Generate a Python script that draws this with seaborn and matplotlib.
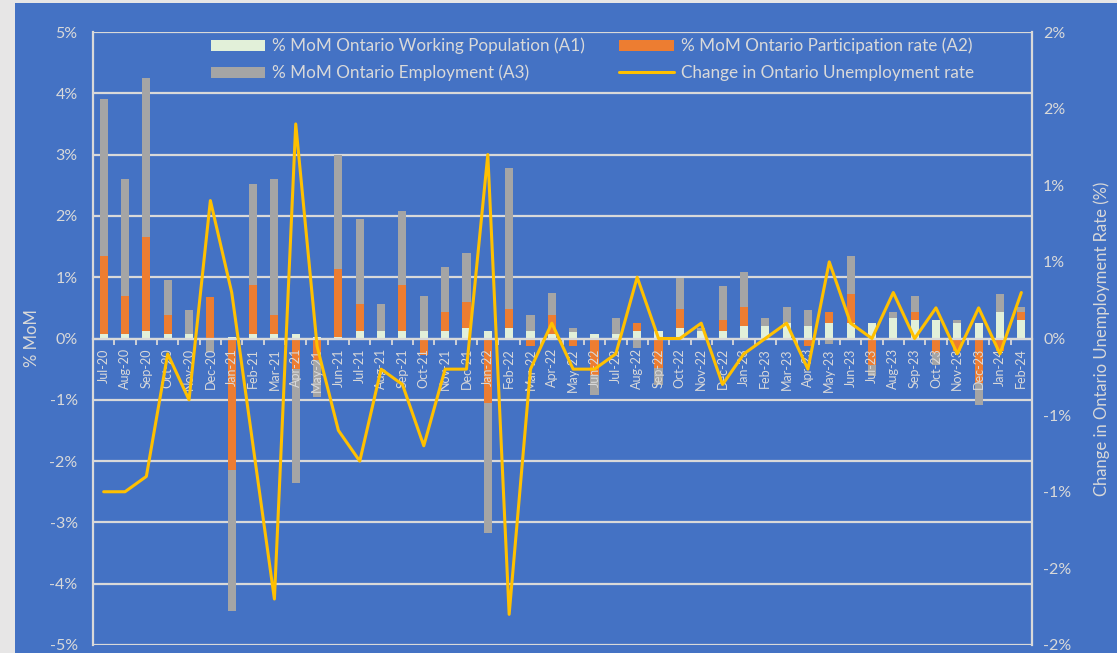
import numpy as np
import pandas as pd
import seaborn as sns
import matplotlib
matplotlib.use("Agg")
import matplotlib.pyplot as plt
from matplotlib.patches import Rectangle, Patch
from matplotlib.lines import Line2D
from matplotlib.ticker import FixedLocator, FuncFormatter

months = ["Jul-20", "Aug-20", "Sep-20", "Oct-20", "Nov-20", "Dec-20",
          "Jan-21", "Feb-21", "Mar-21", "Apr-21", "May-21", "Jun-21",
          "Jul-21", "Aug-21", "Sep-21", "Oct-21", "Nov-21", "Dec-21",
          "Jan-22", "Feb-22", "Mar-22", "Apr-22", "May-22", "Jun-22",
          "Jul-22", "Aug-22", "Sep-22", "Oct-22", "Nov-22", "Dec-22",
          "Jan-23", "Feb-23", "Mar-23", "Apr-23", "May-23", "Jun-23",
          "Jul-23", "Aug-23", "Sep-23", "Oct-23", "Nov-23", "Dec-23",
          "Jan-24", "Feb-24"]

# % MoM Ontario Working Population (A1)
working_pop = [0.07, 0.07, 0.12, 0.07, 0.07, 0.01, 0.03, 0.07, 0.07, 0.08, 0.03, 0.02,
               0.12, 0.12, 0.12, 0.12, 0.12, 0.17, 0.12, 0.17, 0.12, 0.08, 0.11, 0.08,
               0.08, 0.12, 0.12, 0.17, 0.12, 0.12, 0.21, 0.21, 0.25, 0.21, 0.25, 0.25,
               0.25, 0.34, 0.30, 0.30, 0.25, 0.25, 0.43, 0.30]
# % MoM Ontario Participation rate (A2)
participation = [1.27, 0.62, 1.53, 0.32, 0.00, 0.67, -2.14, 0.80, 0.32, -0.49, -0.35, 1.11,
                 0.44, 0.00, 0.75, -0.27, 0.31, 0.43, -1.05, 0.31, -0.13, 0.30, -0.13, -0.60,
                 0.00, 0.13, -0.48, 0.31, 0.00, 0.18, 0.30, 0.00, 0.00, -0.13, 0.18, 0.48,
                 -0.43, 0.00, 0.13, -0.24, -0.20, -0.73, -0.21, 0.13]
# % MoM Ontario Employment (A3)
employment = [2.56, 1.91, 2.60, 0.56, 0.40, -0.22, -2.30, 1.65, 2.21, -1.87, -0.61, 1.86,
              1.39, 0.44, 1.21, 0.57, 0.74, 0.79, -2.13, 2.30, 0.26, 0.36, 0.06, -0.32,
              0.26, -0.16, -0.28, 0.51, 0.05, 0.56, 0.57, 0.13, 0.26, 0.26, -0.09, 0.61,
              -0.18, 0.09, 0.26, -0.19, 0.05, -0.35, 0.30, 0.08]
# Change in Ontario Unemployment rate (percentage points)
unemp_change = [-1.0, -1.0, -0.9, -0.1, -0.4, 0.9, 0.3, -0.7, -1.7, 1.4, -0.05, -0.6,
                -0.8, -0.2, -0.3, -0.7, -0.2, -0.2, 1.2, -1.8, -0.2, 0.1, -0.2, -0.2,
                -0.1, 0.4, 0.0, 0.0, 0.1, -0.3, -0.1, 0.0, 0.1, -0.2, 0.5, 0.1,
                0.0, 0.3, 0.0, 0.2, -0.1, 0.2, -0.1, 0.3]

left_ticks = [-5, -4, -3, -2, -1, 0, 1, 2, 3, 4, 5]
right_ticks = [-2.0, -1.5, -1.0, -0.5, 0.0, 0.5, 1.0, 1.5, 2.0]
right_labels = ["-2%", "-2%", "-1%", "-1%", "0%", "1%", "1%", "2%", "2%"]

BLUE = "#4472C4"
GREEN = "#E2F0D9"
ORANGE = "#ED7D31"
GREY = "#A5A5A5"
GOLD = "#FFC000"
LIGHT = "#D9D9D9"

sns.set_theme(style="white")
plt.rcParams["font.family"] = ["Lato", "DejaVu Sans"]

pos = np.arange(len(months))
a1 = np.array(working_pop)
a2 = np.array(participation)
a3 = np.array(employment)

# Excel-style stacking: positives stack upward, negatives downward
p1 = np.clip(a1, 0, None); n1 = np.clip(a1, None, 0)
p2 = np.clip(a2, 0, None); n2 = np.clip(a2, None, 0)
p3 = np.clip(a3, 0, None); n3 = np.clip(a3, None, 0)
df = pd.DataFrame({
    "pos": pos,
    "pos3": p1 + p2 + p3, "pos2": p1 + p2, "pos1": p1,
    "neg3": n1 + n2 + n3, "neg2": n1 + n2, "neg1": n1,
    "unemp": unemp_change,
})

fig = plt.figure(figsize=(11.17, 6.53), dpi=100)
fig.patch.set_facecolor("#E7E6E6")
fig.add_artist(Rectangle((15 / 1117, 0), 1 - 15 / 1117, 650 / 653,
                         transform=fig.transFigure, facecolor=BLUE,
                         edgecolor="none", zorder=0))

ax = fig.add_axes([93 / 1117, 8 / 653, (1032 - 93) / 1117, (645 - 32) / 653])
ax.set_facecolor(BLUE)

bw = 0.38
for col, colr in [("pos3", GREY), ("pos2", ORANGE), ("pos1", GREEN),
                  ("neg3", GREY), ("neg2", ORANGE), ("neg1", GREEN)]:
    sns.barplot(data=df, x="pos", y=col, color=colr, native_scale=True,
                width=bw, saturation=1, linewidth=0, ax=ax, zorder=3)

ax.set_xlim(-0.5, len(months) - 0.5)
ax.set_ylim(-5, 5)
ax.set_yticks(left_ticks)
ax.yaxis.set_major_formatter(FuncFormatter(lambda v, p: f"{v:.0f}%"))
ax.grid(axis="y", color=LIGHT, linewidth=1.6, zorder=1)
ax.grid(axis="x", visible=False)
ax.set_axisbelow(True)
ax.tick_params(axis="x", which="both", length=0, labelbottom=False)
ax.spines["bottom"].set_visible(False)
ax.spines["top"].set_visible(False)
ax.spines["right"].set_visible(False)
ax.spines["left"].set_color(LIGHT)
ax.spines["left"].set_linewidth(1.6)
ax.tick_params(axis="y", length=0, labelsize=11.5, labelcolor=LIGHT, pad=11)
ax.set_xlabel("")
ax.set_ylabel("% MoM", fontsize=12, color=LIGHT)
ax.yaxis.set_label_coords(-0.0564, 0.5)

ax2 = ax.twinx()
sns.lineplot(data=df, x="pos", y="unemp", color=GOLD, linewidth=2.2, ax=ax2,
             sort=False, zorder=4)
ax2.set_xlim(-0.5, len(months) - 0.5)
ax2.set_ylim(-2, 2)
ax2.set_yticks(right_ticks)
ax2.set_yticklabels(right_labels)
ax2.tick_params(axis="y", length=0, labelsize=11.5, labelcolor=LIGHT, pad=8)
ax2.set_ylabel("Change in Ontario Unemployment Rate (%)", fontsize=12, color=LIGHT)
ax2.yaxis.set_label_coords(1.065, 0.5)

# category axis drawn on the overlay axes so the labels sit above the bars
ax2.xaxis.set_visible(True)
ax2.spines["bottom"].set_position(("data", 0))
ax2.spines["bottom"].set_color(LIGHT)
ax2.spines["bottom"].set_linewidth(1.6)
ax2.set_xticks(pos)
ax2.set_xticklabels(months, rotation=90, fontsize=9, color=LIGHT, va="top")
ax2.xaxis.set_minor_locator(FixedLocator(np.arange(-0.5, len(months), 1.0)))
ax2.tick_params(axis="x", which="major", length=0, pad=7, bottom=True, labelbottom=True)
ax2.tick_params(axis="x", which="minor", length=4, width=1.3, color=LIGHT,
                direction="out", bottom=True)
ax2.set_xlabel("")
ax2.spines["top"].set_visible(False)
ax2.spines["left"].set_visible(False)
ax2.spines["right"].set_color(LIGHT)
ax2.spines["right"].set_linewidth(1.6)
ax2.grid(False)

handles = [Patch(facecolor=GREEN, edgecolor="none"),
           Patch(facecolor=GREY, edgecolor="none"),
           Patch(facecolor=ORANGE, edgecolor="none"),
           Line2D([0], [0], color=GOLD, linewidth=2.2)]
labels = ["% MoM Ontario Working Population (A1)",
          "% MoM Ontario Employment (A3)",
          "% MoM Ontario Participation rate (A2)",
          "Change in Ontario Unemployment rate"]
leg = ax2.legend(handles, labels, ncol=2, loc="upper left",
                 bbox_to_anchor=(0.12, 0.999), frameon=False, fontsize=12.3,
                 labelcolor=LIGHT, handlelength=3.2, handleheight=0.6,
                 handletextpad=0.4, columnspacing=2.0, labelspacing=0.6,
                 borderaxespad=0, borderpad=0.3)

fig.savefig("out.png", dpi=100, facecolor=fig.get_facecolor())
